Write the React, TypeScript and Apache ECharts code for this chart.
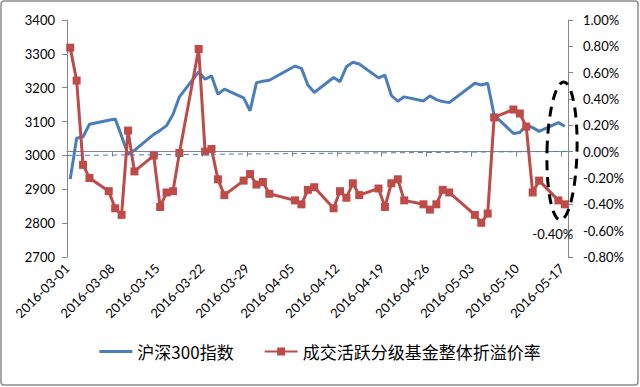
import React, { useEffect, useRef } from "react";
import * as echarts from "echarts";

const dates = [
  "2016-03-01","2016-03-02","2016-03-03","2016-03-04","2016-03-07","2016-03-08","2016-03-09","2016-03-10","2016-03-11",
  "2016-03-14","2016-03-15","2016-03-16","2016-03-17","2016-03-18","2016-03-21","2016-03-22","2016-03-23","2016-03-24",
  "2016-03-25","2016-03-28","2016-03-29","2016-03-30","2016-03-31","2016-04-01","2016-04-05","2016-04-06","2016-04-07",
  "2016-04-08","2016-04-11","2016-04-12","2016-04-13","2016-04-14","2016-04-15","2016-04-18","2016-04-19","2016-04-20",
  "2016-04-21","2016-04-22","2016-04-25","2016-04-26","2016-04-27","2016-04-28","2016-04-29","2016-05-03","2016-05-04",
  "2016-05-05","2016-05-06","2016-05-09","2016-05-10","2016-05-11","2016-05-12","2016-05-13","2016-05-16","2016-05-17",
];

const hs300 = [
  2930, 3051, 3055, 3092, 3104, 3108, 3057, 3003, 3015,
  3062, 3074, 3088, 3121, 3173, 3247, 3225, 3235, 3181,
  3196, 3170, 3132, 3215, 3219, 3222, 3264, 3257, 3208,
  3186, 3230, 3218, 3262, 3275, 3270, 3229, 3237, 3177,
  3160, 3173, 3161, 3176, 3165, 3159, 3156, 3213, 3208,
  3213, 3119, 3065, 3068, 3090, 3082, 3071, 3097, 3086,
];

const premium = [
  0.79, 0.54, -0.10, -0.20, -0.30, -0.43, -0.48, 0.16, -0.15,
  -0.03, -0.42, -0.31, -0.30, -0.01, 0.78, 0.00, 0.02, -0.21,
  -0.33, -0.22, -0.17, -0.25, -0.23, -0.32, -0.37, -0.40, -0.29,
  -0.27, -0.43, -0.30, -0.35, -0.24, -0.33, -0.28, -0.42, -0.24,
  -0.21, -0.37, -0.40, -0.44, -0.40, -0.29, -0.31, -0.48, -0.54,
  -0.47, 0.26, 0.32, 0.29, 0.19, -0.31, -0.22, -0.37, -0.40,
];

const seriesNames = ["沪深300指数", "成交活跃分级基金整体折溢价率"];
const startDate = "2016-03-01";
const axisDays = 78; // 2016-03-01 .. 2016-05-17 inclusive
const tickDays = 7;
const leftTicks = { min: 2700, max: 3400, interval: 100 };
const rightTicks = { min: -0.8, max: 1.0, interval: 0.2 };

const DAY = 86400000;
const toUTC = (s: string) => {
  const [y, m, d] = s.split("-").map(Number);
  return Date.UTC(y, m - 1, d);
};
const dayIndex = (s: string) => (toUTC(s) - toUTC(startDate)) / DAY;
const fmtDate = (idx: number) => {
  const t = new Date(toUTC(startDate) + idx * DAY);
  const mm = String(t.getUTCMonth() + 1).padStart(2, "0");
  const dd = String(t.getUTCDate()).padStart(2, "0");
  return `${t.getUTCFullYear()}-${mm}-${dd}`;
};

const BLUE = "#4a7ebb";
const RED = "#be4b48";
const AXIS = "#868686";
const NUMFONT = "Lato";

export default function App() {
  const ref = useRef<HTMLDivElement>(null);
  useEffect(() => {
    if (!ref.current) return;
    const chart = echarts.init(ref.current, undefined, { renderer: "svg" });
    const blueData = dates.map((d, i) => [dayIndex(d) + 0.5, hs300[i]]);
    const redData: any[] = dates.map((d, i) => [dayIndex(d) + 0.5, premium[i]]);
    const last = redData.length - 1;
    redData[last] = {
      value: redData[last],
      label: {
        show: true,
        position: "bottom",
        offset: [-12, 14],
        formatter: (p: any) => p.value[1].toFixed(2) + "%",
        fontFamily: NUMFONT,
        fontSize: 13,
        color: "#000",
      },
    };
    chart.setOption({
      animation: false,
      backgroundColor: "#fff",
      grid: { left: 67, right: 72, top: 20, bottom: 130 },
      legend: {
        data: [
          { name: seriesNames[0], icon: "path://M0,0 L33,0 L33,3 L0,3 Z" },
          { name: seriesNames[1] },
        ],
        left: "center",
        top: 338,
        itemWidth: 33,
        itemHeight: 10,
        itemGap: 30,
        textStyle: { fontFamily: "Noto Sans CJK SC", fontSize: 17, color: "#000" },
      },
      xAxis: {
        type: "value",
        min: 0,
        max: axisDays,
        interval: tickDays,
        splitLine: { show: false },
        axisLine: { lineStyle: { color: AXIS, width: 1 } },
        axisTick: { length: 5, lineStyle: { color: AXIS } },
        axisLabel: {
          rotate: 45,
          margin: 9,
          fontFamily: NUMFONT,
          fontSize: 13,
          color: "#000",
          formatter: (v: number) => (v % tickDays === 0 ? fmtDate(v) : ""),
        },
      },
      yAxis: [
        {
          type: "value",
          ...leftTicks,
          splitLine: { show: false },
          axisLine: { show: true, lineStyle: { color: AXIS } },
          axisTick: { show: true, length: 5, lineStyle: { color: AXIS } },
          axisLabel: {
            margin: 12,
            fontFamily: NUMFONT,
            fontSize: 13,
            color: "#000",
            formatter: (v: number) => String(v),
          },
        },
        {
          type: "value",
          ...rightTicks,
          position: "right",
          splitLine: { show: false },
          axisLine: { show: true, lineStyle: { color: AXIS } },
          axisTick: { show: true, length: 5, lineStyle: { color: AXIS } },
          axisLabel: {
            margin: 15,
            fontFamily: NUMFONT,
            fontSize: 13,
            color: "#000",
            formatter: (v: number) => v.toFixed(2) + "%",
          },
        },
      ],
      series: [
        {
          name: seriesNames[0],
          type: "line",
          yAxisIndex: 0,
          data: blueData,
          symbol: "none",
          lineStyle: { color: BLUE, width: 3 },
          itemStyle: { color: BLUE },
          z: 2,
          markLine: {
            silent: true,
            symbol: "none",
            label: { show: false },
            lineStyle: { color: BLUE, width: 1, type: [5, 4] },
            data: [[{ coord: [0, 3000] }, { coord: [axisDays, 3012] }]],
          },
        },
        {
          name: seriesNames[1],
          type: "line",
          yAxisIndex: 1,
          data: redData,
          symbol: "rect",
          symbolSize: 8,
          lineStyle: { color: RED, width: 3 },
          itemStyle: { color: RED },
          z: 3,
        },
      ],
      graphic: [
        {
          type: "rect",
          shape: { x: 1, y: 1, width: 637, height: 384, r: 3 },
          style: { fill: "none", stroke: "#8c8c8c", lineWidth: 1.5 },
          silent: true,
          z: 100,
        },
        {
          type: "ellipse",
          x: 562,
          y: 151,
          rotation: -0.025,
          shape: { cx: 0, cy: 0, rx: 15, ry: 69 },
          style: { fill: "none", stroke: "#000", lineWidth: 3, lineDash: [10, 7] },
          silent: true,
          z: 100,
        },
      ],
    });
    return () => chart.dispose();
  }, []);
  return (
    <div
      ref={ref}
      style={{ position: "fixed", left: 0, top: 0, width: 640, height: 387, background: "#fff" }}
    />
  );
}
